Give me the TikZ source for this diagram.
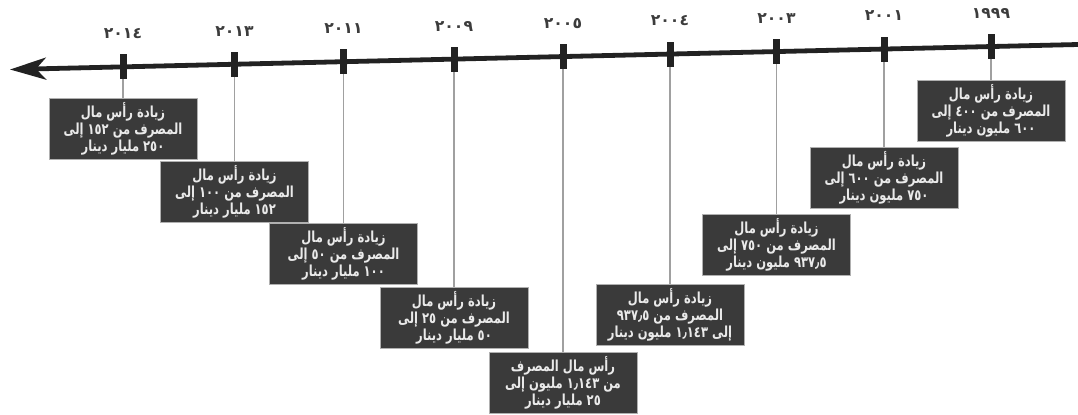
\documentclass[tikz,border=0pt]{standalone}
\usepackage{graphicx}
\usepackage{fontspec}
\newfontfamily\arabicfont[Script=Arabic]{DejaVu Sans}
\TeXXeTstate=1
\usetikzlibrary{arrows.meta}
\newcommand{\rtlline}[1]{\scalebox{0.76}[1]{\beginR #1\endR}}
\definecolor{boxfill}{HTML}{3A3A3A}
\definecolor{boxedge}{HTML}{B0B0B0}
\definecolor{boxtext}{HTML}{EAEAEA}
\definecolor{conncol}{HTML}{A0A0A0}
\definecolor{linecol}{HTML}{222222}
\definecolor{yearcol}{HTML}{3C3C3C}
\tikzset{
  infobox/.style={draw=boxedge, line width=0.5pt, fill=boxfill, text=boxtext,
    minimum width=74pt, minimum height=30.5pt, inner sep=1pt, align=center,
    font=\arabicfont\bfseries\fontsize{7.6}{8.5}\selectfont},
  tickmark/.style={fill=linecol, minimum width=3.5pt, minimum height=12.5pt, inner sep=0pt},
  yearlabel/.style={text=yearcol, font=\arabicfont\bfseries\fontsize{7.8}{8}\selectfont, inner sep=0pt},
  conn/.style={draw=conncol, line width=0.6pt},
  axisline/.style={draw=linecol, line width=2.4pt, -{Stealth[length=18pt,width=11pt,inset=5pt]}}
}
\begin{document}
\begin{tikzpicture}[x=0.5pt,y=-0.5pt]
\useasboundingbox (0,0) rectangle (1078,414);
% axis
\coordinate (axR) at (1078,44.5);
\coordinate (axL) at (10,69.5);
% boxes
\node[infobox] (b2014) at (123,128.5) {\rtlline{زيادة رأس مال}\\\rtlline{المصرف من ١٥٢ إلى}\\\rtlline{٢٥٠ مليار دينار}};
\node[infobox] (b2013) at (234.5,192) {\rtlline{زيادة رأس مال}\\\rtlline{المصرف من ١٠٠ إلى}\\\rtlline{١٥٢ مليار دينار}};
\node[infobox] (b2011) at (343.5,254) {\rtlline{زيادة رأس مال}\\\rtlline{المصرف من ٥٠ إلى}\\\rtlline{١٠٠ مليار دينار}};
\node[infobox] (b2009) at (454,317.5) {\rtlline{زيادة رأس مال}\\\rtlline{المصرف من ٢٥ إلى}\\\rtlline{٥٠ مليار دينار}};
\node[infobox] (b2005) at (563,383) {\rtlline{رأس مال المصرف}\\\rtlline{من ١٫١٤٣ مليون إلى}\\\rtlline{٢٥ مليار دينار}};
\node[infobox] (b2004) at (670,315) {\rtlline{زيادة رأس مال}\\\rtlline{المصرف من ٩٣٧٫٥}\\\rtlline{إلى ١٫١٤٣ مليون دينار}};
\node[infobox] (b2003) at (776.5,245) {\rtlline{زيادة رأس مال}\\\rtlline{المصرف من ٧٥٠ إلى}\\\rtlline{٩٣٧٫٥ مليون دينار}};
\node[infobox] (b2001) at (884,177.5) {\rtlline{زيادة رأس مال}\\\rtlline{المصرف من ٦٠٠ إلى}\\\rtlline{٧٥٠ مليون دينار}};
\node[infobox] (b1999) at (991,110.5) {\rtlline{زيادة رأس مال}\\\rtlline{المصرف من ٤٠٠ إلى}\\\rtlline{٦٠٠ مليون دينار}};
% ticks
\node[tickmark] (t2014) at (123,66.9) {};
\node[tickmark] (t2013) at (234.5,64.3) {};
\node[tickmark] (t2011) at (343.5,61.7) {};
\node[tickmark] (t2009) at (454,59.1) {};
\node[tickmark] (t2005) at (563,56.6) {};
\node[tickmark] (t2004) at (670,54.0) {};
\node[tickmark] (t2003) at (776.5,51.5) {};
\node[tickmark] (t2001) at (884,49.0) {};
\node[tickmark] (t1999) at (991,46.5) {};
% connectors
\foreach \y in {2014,2013,2011,2009,2005,2004,2003,2001,1999}{
  \draw[conn] (t\y.center) -- (b\y.north);
}
% axis drawn over connectors
\draw[axisline] (axR) -- (axL);
\foreach \y in {2014,2013,2011,2009,2005,2004,2003,2001,1999}{
  \node[tickmark] at (t\y) {};
}
% year labels
\node[yearlabel] (y2014) at ([yshift=33*0.5pt]t2014.center) {٢٠١٤};
\node[yearlabel] (y2013) at ([yshift=33*0.5pt]t2013.center) {٢٠١٣};
\node[yearlabel] (y2011) at ([yshift=33*0.5pt]t2011.center) {٢٠١١};
\node[yearlabel] (y2009) at ([yshift=33*0.5pt]t2009.center) {٢٠٠٩};
\node[yearlabel] (y2005) at ([yshift=33*0.5pt]t2005.center) {٢٠٠٥};
\node[yearlabel] (y2004) at ([yshift=33*0.5pt]t2004.center) {٢٠٠٤};
\node[yearlabel] (y2003) at ([yshift=33*0.5pt]t2003.center) {٢٠٠٣};
\node[yearlabel] (y2001) at ([yshift=33*0.5pt]t2001.center) {٢٠٠١};
\node[yearlabel] (y1999) at ([yshift=33*0.5pt]t1999.center) {١٩٩٩};
\end{tikzpicture}
\end{document}
